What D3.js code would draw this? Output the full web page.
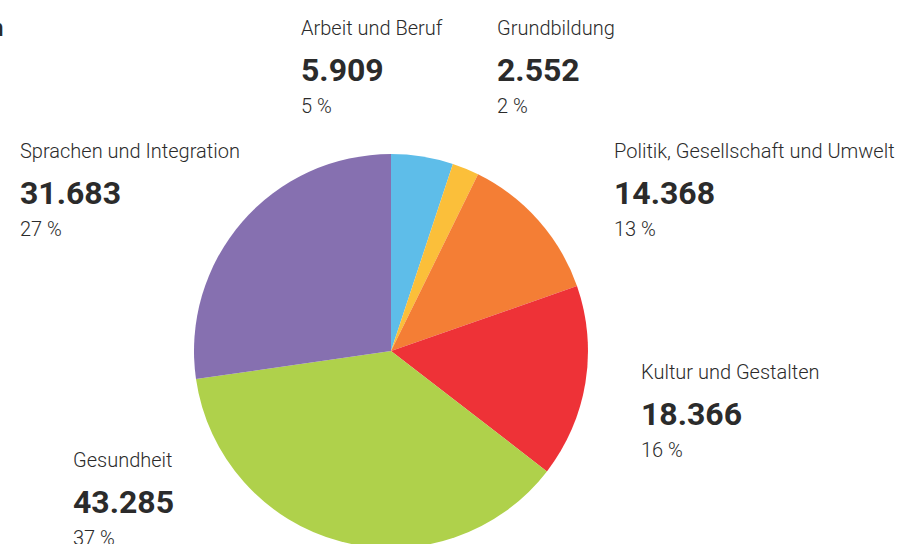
<!DOCTYPE html>
<html>
<head>
<meta charset="utf-8">
<script src="https://cdn.jsdelivr.net/npm/d3@7"></script>
<style>
  body { margin: 0; background: #fff; }
  svg { display: block; }
</style>
</head>
<body>
<svg id="chart" width="902" height="544"></svg>
<script>
// Teilnahmen nach Programmbereichen
let categories = ["Arbeit und Beruf", "Grundbildung", "Politik, Gesellschaft und Umwelt", "Kultur und Gestalten", "Gesundheit", "Sprachen und Integration"];
let values = [5909, 2552, 14368, 18366, 43285, 31683];
let percentLabels = ["5 %", "2 %", "13 %", "16 %", "37 %", "27 %"];
let colors = ["#5ebde9", "#fbbf3a", "#f47e35", "#ee3237", "#afd14b", "#8670b0"];

// where each label block sits (name baseline)
let labelPos = [[301, 35], [497, 35], [614, 158], [641, 379], [73, 467], [20, 158]];

var svg = d3.select("#chart");
var textColor = "#2b2b2b";

// cut off title at left edge
svg.append("text")
    .attr("x", 3.5)
    .attr("y", 36)
    .attr("text-anchor", "end")
    .style("font-family", "Roboto")
    .style("font-weight", 700)
    .style("font-size", "24px")
    .style("fill", textColor)
    .text("Teilnahmen");

var pie = d3.pie().sort(null).value(d => d);
var arc = d3.arc().innerRadius(0).outerRadius(197);

var g = svg.append("g")
    .attr("transform", "translate(391,351)");

g.selectAll("path")
    .data(pie(values))
    .join("path")
    .attr("d", arc)
    .style("fill", (d, i) => colors[i]);

var fmt = d3.formatLocale({decimal: ",", thousands: ".", grouping: [3], currency: ["", "€"]}).format(",d");

categories.forEach(function(name, i) {
    var x = labelPos[i][0], y = labelPos[i][1];
    var lg = svg.append("g").attr("transform", "translate(" + x + "," + y + ")")
        .style("font-family", "Roboto")
        .style("fill", textColor);

    lg.append("text")
        .attr("y", 0)
        .style("font-size", "20px")
        .style("font-weight", 300)
        .text(name);

    lg.append("text")
        .attr("y", 46)
        .style("font-size", "32px")
        .style("font-weight", 700)
        .text(fmt(values[i]));

    lg.append("text")
        .attr("y", 78)
        .style("font-size", "20px")
        .style("font-weight", 300)
        .text(percentLabels[i]);
});
</script>
</body>
</html>
